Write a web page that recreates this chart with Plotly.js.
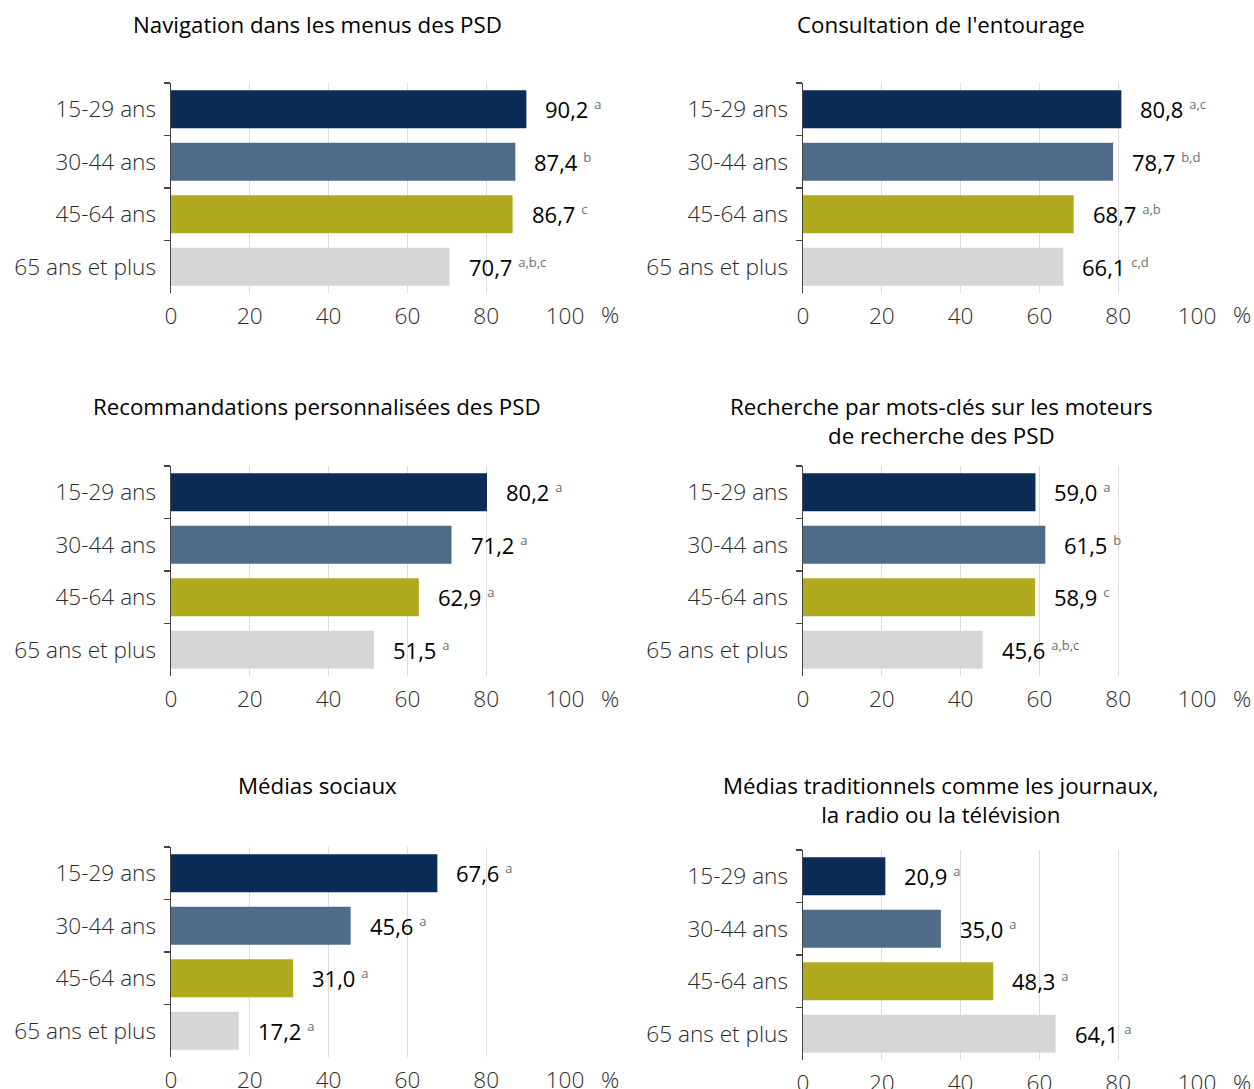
<!DOCTYPE html>
<html>
<head>
<meta charset="utf-8">
<script src="https://cdn.plot.ly/plotly-3.0.1.min.js"></script>
<style>
html,body{margin:0;padding:0;background:#fff;}
#chart{width:1254px;height:1089px;}
</style>
</head>
<body>
<div id="chart"></div>
<script>
// ---- data ----
var categories = ['15-29 ans', '30-44 ans', '45-64 ans', '65 ans et plus'];
var barColors = ['#0a2c57', '#506b8a', '#b0aa1f', '#d5d7d6'];

var panelTitles = [
  'Navigation dans les menus des PSD',
  'Consultation de l\'entourage',
  'Recommandations personnalisées des PSD',
  'Recherche par mots-clés sur les moteurs<br>de recherche des PSD',
  'Médias sociaux',
  'Médias traditionnels comme les journaux,<br>la radio ou la télévision'
];

var navigationValues = [90.2, 87.4, 86.7, 70.7];
var navigationNotes  = ['a', 'b', 'c', 'a,b,c'];
var entourageValues  = [80.8, 78.7, 68.7, 66.1];
var entourageNotes   = ['a,c', 'b,d', 'a,b', 'c,d'];
var recommandValues  = [80.2, 71.2, 62.9, 51.5];
var recommandNotes   = ['a', 'a', 'a', 'a'];
var motsClesValues   = [59.0, 61.5, 58.9, 45.6];
var motsClesNotes    = ['a', 'b', 'c', 'a,b,c'];
var sociauxValues    = [67.6, 45.6, 31.0, 17.2];
var sociauxNotes     = ['a', 'a', 'a', 'a'];
var tradValues       = [20.9, 35.0, 48.3, 64.1];
var tradNotes        = ['a', 'a', 'a', 'a'];

var xTickValues = [0, 20, 40, 60, 80, 100];
var xTickLabels = ['0', '20', '40', '60', '80', '100'];
var unitLabel = '%';

var panelValues = [navigationValues, entourageValues, recommandValues, motsClesValues, sociauxValues, tradValues];
var panelNotes  = [navigationNotes, entourageNotes, recommandNotes, motsClesNotes, sociauxNotes, tradNotes];

// ---- layout geometry (pixels) ----
var W = 1254, H = 1089;
var colX = [[171, 565], [803, 1197]];
var rowY = [[[83, 293], [83, 293]], [[466, 676], [466, 676]], [[847, 1057], [850, 1060]]];
var titleCenterX = [317, 941];
var titleTopY = [[7, 7], [389, 389], [768, 768]];
var unitX = [610, 1242];

function px2x(p) { return p / W; }
function px2y(p) { return 1 - p / H; }
function fmt(v) { return v.toFixed(1).replace('.', ','); }

var tickFont = {family: 'Open Sans, sans-serif', size: 22.6, color: '#2b2b2b', weight: 300};

var data = [];
var layout = {
  width: W, height: H,
  margin: {l: 0, r: 0, t: 0, b: 0},
  paper_bgcolor: '#ffffff',
  plot_bgcolor: '#ffffff',
  showlegend: false,
  font: {family: 'Open Sans, sans-serif', size: 22, color: '#000'},
  annotations: []
};

for (var i = 0; i < 6; i++) {
  var row = Math.floor(i / 2), col = i % 2;
  var n = i + 1;
  var xa = 'x' + (n === 1 ? '' : n), ya = 'y' + (n === 1 ? '' : n);
  var xKey = 'xaxis' + (n === 1 ? '' : n), yKey = 'yaxis' + (n === 1 ? '' : n);
  var yr = rowY[row][col];

  data.push({
    type: 'bar',
    orientation: 'h',
    x: panelValues[i],
    y: categories,
    xaxis: xa, yaxis: ya,
    marker: {color: barColors, line: {width: 0}},
    width: 0.72,
    hoverinfo: 'none'
  });

  layout[xKey] = {
    domain: [px2x(colX[col][0]), px2x(colX[col][1])],
    anchor: ya,
    range: [0, 100],
    tickvals: xTickValues,
    ticktext: xTickLabels,
    showgrid: true,
    gridcolor: '#dcdcdc',
    gridwidth: 1,
    zeroline: false,
    showline: false,
    ticks: '',
    ticklabelstandoff: 7,
    tickfont: tickFont,
    fixedrange: true
  };
  layout[yKey] = {
    domain: [px2y(yr[1]), px2y(yr[0])],
    anchor: xa,
    type: 'category',
    categoryorder: 'array',
    categoryarray: categories,
    range: [3.5, -0.5],
    showgrid: false,
    zeroline: false,
    showline: true,
    linecolor: '#444444',
    linewidth: 1.5,
    ticks: 'outside',
    tickson: 'boundaries',
    ticklen: 6,
    tickwidth: 1.5,
    tickcolor: '#444444',
    ticklabelstandoff: 9,
    tickfont: tickFont,
    fixedrange: true
  };

  // panel title
  layout.annotations.push({
    xref: 'paper', yref: 'paper',
    x: px2x(titleCenterX[col]), y: px2y(titleTopY[row][col]),
    xanchor: 'center', yanchor: 'top',
    text: panelTitles[i],
    showarrow: false,
    font: {family: 'Open Sans, sans-serif', size: 22.3, color: '#000'}
  });

  // unit label
  layout.annotations.push({
    xref: 'paper', yref: 'paper',
    x: px2x(unitX[col]), y: px2y(yr[1] + 22),
    xanchor: 'center', yanchor: 'middle',
    text: unitLabel,
    showarrow: false,
    font: tickFont
  });

  // value labels
  for (var k = 0; k < categories.length; k++) {
    layout.annotations.push({
      xref: xa, yref: ya,
      x: panelValues[i][k], y: categories[k],
      xanchor: 'left', yanchor: 'middle',
      xshift: 17,
      text: fmt(panelValues[i][k]) + ' <sup><span style="font-size:13px;color:#6e6e6e">' + panelNotes[i][k] + '</span></sup>',
      showarrow: false,
      font: {family: 'Open Sans, sans-serif', size: 22, color: '#000'}
    });
  }
}

Plotly.newPlot('chart', data, layout, {staticPlot: true, displayModeBar: false});
</script>
</body>
</html>
